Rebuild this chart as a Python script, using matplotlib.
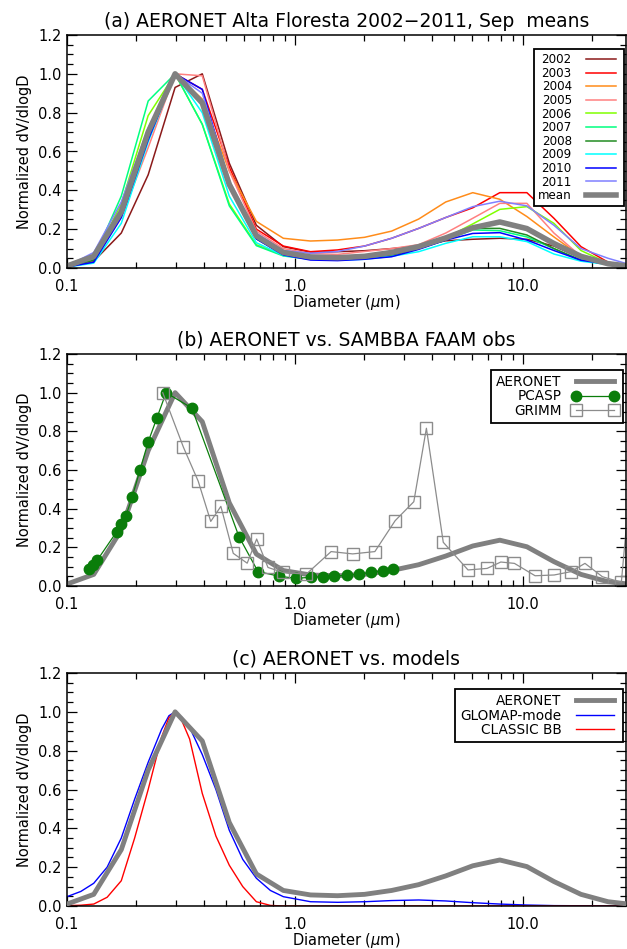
import numpy as np
import matplotlib
matplotlib.use("Agg")
import matplotlib.pyplot as plt
from matplotlib.ticker import FixedLocator, FixedFormatter, LogLocator, NullFormatter, MultipleLocator

plt.rcParams['font.family'] = ['DejaVu Sans']
plt.rcParams['mathtext.fontset'] = 'dejavusans'

# AERONET retrieval bin diameters (um)
diam = [0.100, 0.131, 0.173, 0.227, 0.298, 0.392, 0.515, 0.677, 0.889, 1.169, 1.536,
        2.018, 2.653, 3.486, 4.582, 6.021, 7.913, 10.40, 13.67, 17.96, 23.61, 30.0]

years = ['2002', '2003', '2004', '2005', '2006', '2007', '2008', '2009', '2010', '2011']
year_colors = ['#8b1a1a', '#ff0000', '#ff8c1a', '#ff8080', '#80ff00',
               '#00ff80', '#228b22', '#00ffff', '#0000ff', '#8080ff']

v2002 = [0.01, 0.035, 0.18, 0.48, 0.93, 1.00, 0.54, 0.22, 0.110, 0.081, 0.084, 0.089, 0.100, 0.113, 0.140, 0.148, 0.153, 0.148, 0.113, 0.050, 0.025, 0.010]
v2003 = [0.005, 0.04, 0.27, 0.66, 1.00, 0.92, 0.52, 0.20, 0.113, 0.084, 0.093, 0.113, 0.153, 0.204, 0.260, 0.310, 0.388, 0.388, 0.256, 0.110, 0.030, 0.010]
v2004 = [0.005, 0.04, 0.27, 0.66, 1.00, 0.87, 0.50, 0.24, 0.153, 0.139, 0.144, 0.158, 0.190, 0.252, 0.340, 0.388, 0.354, 0.265, 0.160, 0.060, 0.020, 0.010]
v2005 = [0.005, 0.04, 0.26, 0.62, 1.00, 0.99, 0.50, 0.19, 0.100, 0.075, 0.070, 0.085, 0.100, 0.120, 0.180, 0.256, 0.333, 0.333, 0.180, 0.060, 0.020, 0.010]
v2006 = [0.005, 0.05, 0.33, 0.785, 1.00, 0.74, 0.33, 0.12, 0.065, 0.048, 0.048, 0.055, 0.070, 0.105, 0.155, 0.227, 0.302, 0.316, 0.230, 0.090, 0.025, 0.010]
v2007 = [0.005, 0.05, 0.37, 0.86, 1.00, 0.74, 0.32, 0.115, 0.062, 0.045, 0.045, 0.050, 0.065, 0.100, 0.145, 0.196, 0.192, 0.160, 0.100, 0.040, 0.020, 0.010]
v2008 = [0.005, 0.04, 0.28, 0.70, 1.00, 0.84, 0.42, 0.15, 0.070, 0.050, 0.048, 0.052, 0.065, 0.100, 0.144, 0.204, 0.204, 0.170, 0.100, 0.040, 0.020, 0.010]
v2009 = [0.005, 0.025, 0.23, 0.65, 1.00, 0.80, 0.37, 0.13, 0.065, 0.045, 0.040, 0.045, 0.060, 0.084, 0.127, 0.161, 0.161, 0.136, 0.072, 0.035, 0.018, 0.010]
v2010 = [0.005, 0.03, 0.26, 0.66, 1.00, 0.92, 0.44, 0.15, 0.067, 0.041, 0.038, 0.045, 0.058, 0.096, 0.144, 0.178, 0.182, 0.144, 0.090, 0.040, 0.020, 0.010]
v2011 = [0.01, 0.08, 0.34, 0.72, 1.00, 0.90, 0.45, 0.18, 0.090, 0.076, 0.085, 0.113, 0.153, 0.204, 0.260, 0.316, 0.344, 0.320, 0.220, 0.100, 0.050, 0.015]
year_values = [v2002, v2003, v2004, v2005, v2006, v2007, v2008, v2009, v2010, v2011]

mean_aeronet = [0.01, 0.06, 0.29, 0.70, 1.00, 0.85, 0.43, 0.165, 0.080, 0.057, 0.053, 0.060, 0.080, 0.110, 0.155, 0.207, 0.237, 0.203, 0.126, 0.060, 0.022, 0.008]

# SAMBBA FAAM aircraft obs
pcasp_d = [0.125, 0.130, 0.136, 0.165, 0.172, 0.181, 0.193, 0.209, 0.227, 0.248, 0.272, 0.353,
           0.568, 0.688, 0.855, 1.01, 1.18, 1.33, 1.49, 1.69, 1.91, 2.16, 2.42, 2.68]
pcasp_v = [0.09, 0.11, 0.135, 0.28, 0.32, 0.36, 0.46, 0.60, 0.745, 0.87, 1.00, 0.92,
           0.255, 0.075, 0.05, 0.04, 0.045, 0.048, 0.052, 0.055, 0.062, 0.07, 0.078, 0.088]

grimm_d = [0.263, 0.324, 0.376, 0.427, 0.473, 0.536, 0.617, 0.679, 0.761, 0.887, 1.12, 1.44, 1.79,
           2.24, 2.75, 3.32, 3.77, 4.47, 5.74, 6.96, 7.99, 9.17, 11.3, 13.7, 16.2, 18.7, 22.3, 27.0, 31.5]
grimm_v = [1.00, 0.718, 0.543, 0.334, 0.412, 0.169, 0.118, 0.243, 0.096, 0.070, 0.061, 0.178, 0.166,
           0.178, 0.338, 0.436, 0.816, 0.226, 0.083, 0.091, 0.124, 0.117, 0.053, 0.057, 0.074, 0.117, 0.048, 0.019, 0.90]

# model size distributions
glomap_d = [0.100, 0.115, 0.131, 0.150, 0.173, 0.198, 0.227, 0.260, 0.280, 0.298, 0.320, 0.345, 0.392, 0.450,
            0.515, 0.590, 0.677, 0.780, 0.889, 1.17, 1.54, 2.02, 2.65, 3.49, 4.58, 6.02, 7.91, 10.4, 13.7, 30.0]
glomap_v = [0.048, 0.075, 0.117, 0.200, 0.350, 0.550, 0.740, 0.910, 0.980, 1.000, 0.970, 0.920, 0.780, 0.600,
            0.390, 0.240, 0.143, 0.080, 0.048, 0.022, 0.019, 0.022, 0.028, 0.031, 0.026, 0.017, 0.010, 0.005, 0.002, 0.0]

classic_d = [0.100, 0.115, 0.131, 0.150, 0.173, 0.198, 0.227, 0.260, 0.280, 0.298, 0.320, 0.345, 0.392, 0.450,
             0.515, 0.590, 0.677, 0.780, 0.889, 30.0]
classic_v = [0.002, 0.004, 0.010, 0.045, 0.130, 0.350, 0.600, 0.870, 0.970, 1.000, 0.950, 0.860, 0.580, 0.360,
             0.210, 0.100, 0.022, 0.003, 0.0, 0.0]

grey = '#808080'

fig = plt.figure(figsize=(6.27, 9.49), dpi=100)
left, width = 67 / 627, 559 / 627
ax_a = fig.add_axes([left, 1 - 268 / 949, width, 233 / 949])
ax_b = fig.add_axes([left, 1 - 586 / 949, width, 232 / 949])
ax_c = fig.add_axes([left, 1 - 906 / 949, width, 233 / 949])


def style_axes(ax, title):
    ax.set_xscale('log')
    ax.set_xlim(0.1, 28.3)
    ax.set_ylim(0, 1.2)
    ax.xaxis.set_major_locator(FixedLocator([0.1, 1.0, 10.0]))
    ax.xaxis.set_major_formatter(FixedFormatter(['0.1', '1.0', '10.0']))
    ax.xaxis.set_minor_locator(LogLocator(base=10, subs=np.arange(2, 10)))
    ax.xaxis.set_minor_formatter(NullFormatter())
    ax.yaxis.set_major_locator(MultipleLocator(0.2))
    ax.yaxis.set_minor_locator(MultipleLocator(0.05))
    ax.yaxis.set_major_formatter(matplotlib.ticker.FormatStrFormatter('%.1f'))
    ax.tick_params(which='both', direction='in', top=True, right=True, width=0.9)
    ax.tick_params(which='major', length=7)
    ax.tick_params(which='minor', length=4)
    ax.tick_params(axis='x', which='major', pad=8, labelsize=10.5)
    ax.tick_params(axis='y', which='major', pad=4, labelsize=10.5)
    for s in ax.spines.values():
        s.set_linewidth(1.1)
    ax.set_title(title, fontsize=13.5, pad=6)
    ax.set_xlabel('Diameter ($\\mu$m)', fontsize=10.5, labelpad=-1)
    ax.set_ylabel('Normalized dV/dlogD', fontsize=10.5, labelpad=4)


def style_legend(ax, anchor, size, hl, tp):
    leg = ax.legend(loc='upper right', bbox_to_anchor=anchor, borderaxespad=0, markerfirst=False,
                    fancybox=False, framealpha=1, edgecolor='black', fontsize=size, numpoints=2,
                    handlelength=hl, handletextpad=tp, labelspacing=0.05, borderpad=0.35)
    leg.get_frame().set_linewidth(1.3)
    return leg


# (a) individual years + mean
for name, vals, col in zip(years, year_values, year_colors):
    ax_a.plot(diam, vals, color=col, lw=1.1, label=name)
ax_a.plot(diam, mean_aeronet, color=grey, lw=4, label='mean')
style_axes(ax_a, '(a) AERONET Alta Floresta 2002\u22122011, Sep  means')
style_legend(ax_a, (0.996, 0.94), 8.6, 3.1, 0.9)

# (b) AERONET vs aircraft
ax_b.plot(diam, mean_aeronet, color=grey, lw=3.5, label='AERONET')
ax_b.plot(pcasp_d, pcasp_v, color='#0a7d0a', lw=0.9, marker='o', ms=7.5, mec='#0a7d0a', label='PCASP')
ax_b.plot(grimm_d, grimm_v, color='#8c8c8c', lw=0.9, marker='s', ms=8, mfc='none', mec='#8c8c8c', label='GRIMM')
style_axes(ax_b, '(b) AERONET vs. SAMBBA FAAM obs')
style_legend(ax_b, (0.995, 0.931), 9.8, 3.4, 0.8)

# (c) AERONET vs models
ax_c.plot(diam, mean_aeronet, color=grey, lw=3.5, label='AERONET', zorder=3)
ax_c.plot(glomap_d, glomap_v, color='#0000ff', lw=1.0, label='GLOMAP-mode')
ax_c.plot(classic_d, classic_v, color='#ff0000', lw=1.0, label='CLASSIC BB')
style_axes(ax_c, '(c) AERONET vs. models')
style_legend(ax_c, (0.995, 0.931), 9.8, 3.4, 0.8)

fig.savefig('out.png', dpi=100)
